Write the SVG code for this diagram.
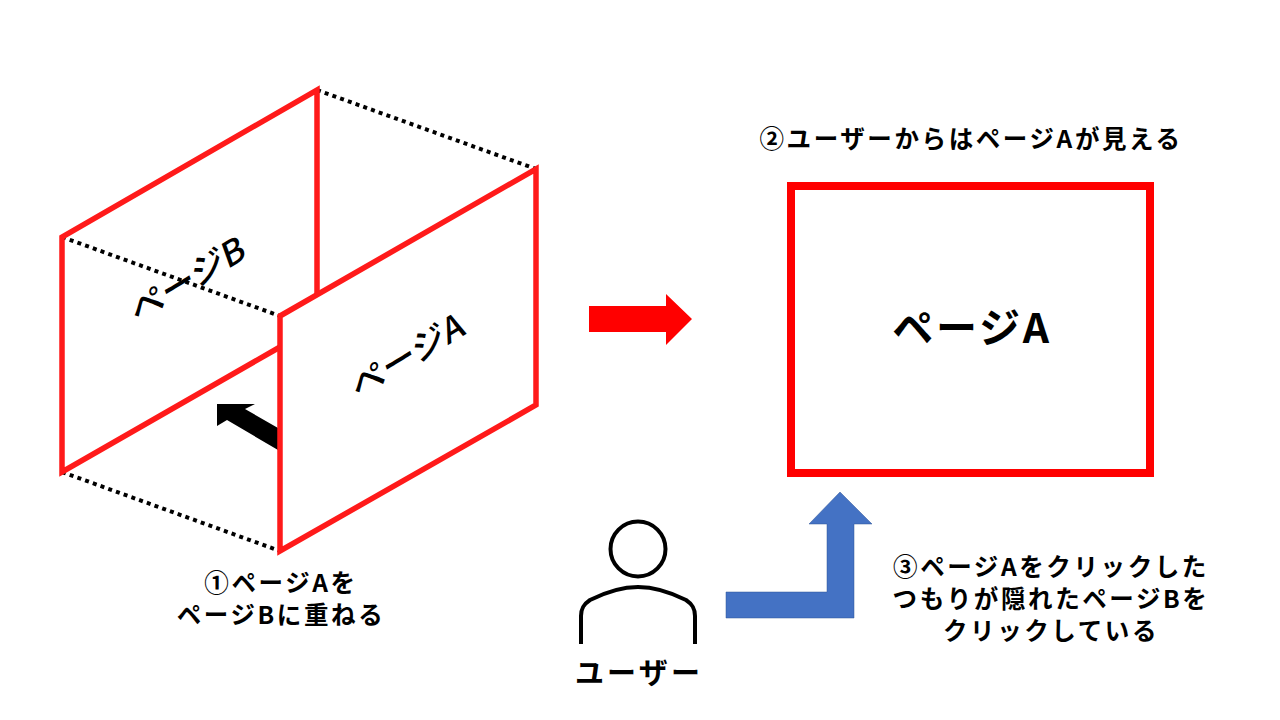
<svg xmlns="http://www.w3.org/2000/svg" width="1280" height="720" viewBox="0 0 1280 720">
<style>
text{font-family:"Noto Sans CJK JP","Noto Sans CJK SC",sans-serif;font-weight:700;fill:#000;text-anchor:middle}
.lb{font-size:24.5px;letter-spacing:2.6px}
.pg{fill:none;stroke:#ff1a1a;stroke-width:5.5;stroke-miterlimit:10}
.dot{fill:none;stroke:#000;stroke-width:4;stroke-dasharray:4 4.2}
.sk{font-size:32px;font-weight:500}
</style>
<rect width="1280" height="720" fill="#fff"/>
<g id="connectors">
<path class="dot" d="M317 90L536 169"/>
<path class="dot" d="M62 237L280 316"/>
<path class="dot" d="M62 472L280 551"/>
<path id="arrow-overlap" d="M217 404H255L245 409L278 428V450L227 420L217 426Z" fill="#000"/>
<path id="arrow-result" d="M589 306H666V294L692 319L666 345V332H589Z" fill="#f00"/>
<path id="arrow-click" d="M726 592H827V524H809L840 492L872 524H854V618H726Z" fill="#4472c4" stroke="#2f5597" stroke-width="0.5"/>
</g>
<g id="page-b">
<path class="pg" d="M280 347L62 472V237L317 90V295"/>
<text class="sk" transform="matrix(0.95,-0.58,0.36,1,192,291)">ページB</text>
</g>
<g id="page-a">
<path d="M280 316L536 169V405L280 551Z" fill="#fff" class="pg"/>
<text class="sk" transform="matrix(0.95,-0.58,0.36,1,412,367)">ページA</text>
</g>
<g id="page-a-front">
<rect x="791" y="186" width="359" height="287" fill="#fff" stroke="#f00" stroke-width="8"/>
<text x="972" y="343" style="font-size:41px;letter-spacing:2.8px">ページA</text>
</g>
<g id="user">
<circle cx="638" cy="549" r="27.5" fill="none" stroke="#000" stroke-width="4"/>
<path d="M581 644V616C581 608 584 604 590 600C606 592 620 587 638 587C656 587 670 592 686 600C692 604 695 608 695 616V644" fill="none" stroke="#000" stroke-width="4"/>
<text x="639" y="684" style="font-size:29px;letter-spacing:3.2px">ユーザー</text>
</g>
<g id="labels">
<text class="lb" x="971" y="148">②ユーザーからはページAが見える</text>
<text class="lb" x="281" y="592">①ページAを</text>
<text class="lb" x="281" y="624">ページBに重ねる</text>
<text class="lb" x="1051" y="576">③ページAをクリックした</text>
<text class="lb" x="1051" y="608">つもりが隠れたページBを</text>
<text class="lb" x="1051" y="640">クリックしている</text>
</g>
</svg>
